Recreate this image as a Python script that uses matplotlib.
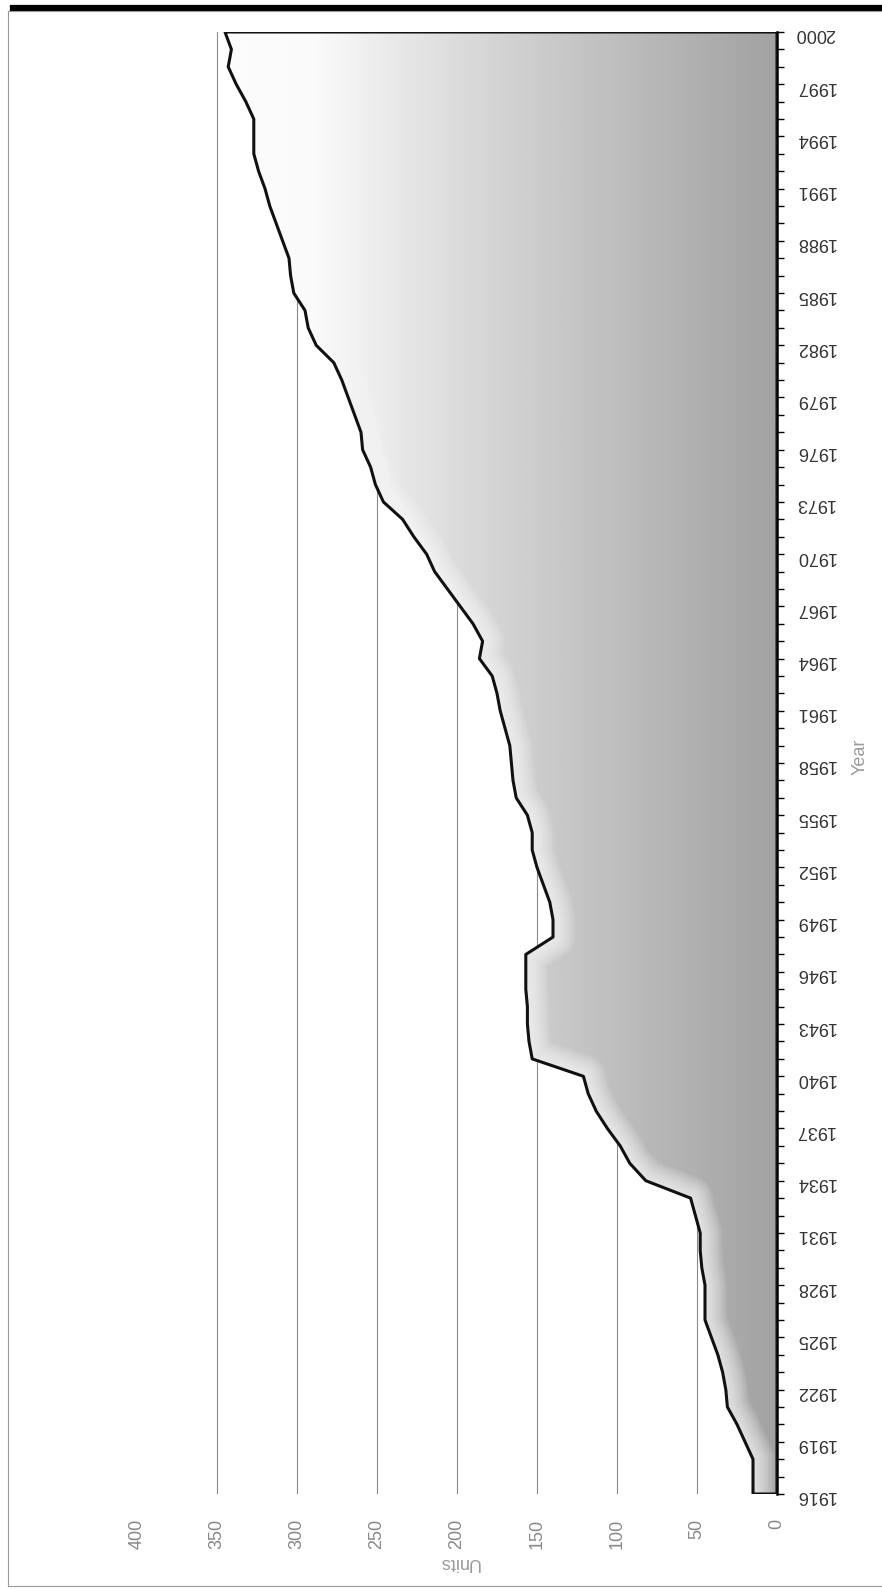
import numpy as np
import matplotlib.pyplot as plt
from matplotlib.colors import LinearSegmentedColormap
from matplotlib.lines import Line2D

plt.rcParams['font.family'] = ['Liberation Sans', 'DejaVu Sans']

years = list(range(1916, 2001))
units = [15, 15, 15, 20, 25, 31, 32, 34, 37, 41,
         45, 45, 45, 47, 48, 48, 51, 54, 82, 92,
         98, 106, 113, 118, 121, 153, 155, 156, 156, 157,
         157, 157, 140, 140, 142, 146, 150, 153, 153, 156,
         163, 165, 166, 167, 170, 173, 175, 178, 186, 184,
         190, 198, 206, 214, 219, 227, 234, 246, 251, 254,
         259, 260, 264, 268, 272, 277, 288, 293, 295, 302,
         304, 305, 309, 313, 317, 320, 324, 327, 327, 327,
         332, 338, 343, 341, 345]
unit_ticks = [0, 50, 100, 150, 200, 250, 300, 350, 400]
year_ticks = list(range(1916, 2001, 3))

fig = plt.figure(figsize=(8.82, 15.9), dpi=100)
ax = fig.add_axes([137 / 882, 1 - 1494 / 1590, 640 / 882, 1462 / 1590])

# rotated layout: years run up the right side, units grow to the left
ax.set_ylim(1916, 2000)
ax.set_xlim(400, 0)

# gradient fill clipped to the area
grad = np.linspace(0, 400, 400).reshape(1, -1)
cmap = LinearSegmentedColormap.from_list(
    'g', [(0, '#a2a2a2'), (0.25, '#bebebe'), (0.5, '#dcdcdc'), (0.72, '#fafafa'), (1, '#ffffff')])
img = ax.imshow(grad, extent=(0, 400, 1916, 2000), origin='lower', aspect='auto',
                cmap=cmap, vmin=0, vmax=400, zorder=1)
area = ax.fill_betweenx(years, 0, units, facecolor='none', edgecolor='none', zorder=1)
img.set_clip_path(area.get_paths()[0], transform=ax.transData)

# soft white edge along the curve
for lw in range(2, 34, 2):
    ax.plot(units, years, color='white', lw=lw, alpha=0.07, zorder=2,
            solid_joinstyle='round', clip_path=img.get_clip_path())

ax.fill_betweenx(years, 0, units, facecolor='none', edgecolor='#111111', lw=2.2, zorder=4)

# grid
ax.set_xticks(unit_ticks)
ax.grid(axis='x', color='#8a8a8a', lw=0.8, zorder=0)
ax.grid(axis='y', visible=False)
for gl, t in zip(ax.get_xgridlines(), unit_ticks):
    if t in (0, 400):
        gl.set_visible(False)
ax.set_axisbelow(True)

for s in ['top', 'left', 'bottom']:
    ax.spines[s].set_visible(False)
ax.spines['right'].set_color('black')
ax.spines['right'].set_linewidth(1.8)

ax.yaxis.tick_right()
ax.set_yticks(year_ticks)
ax.set_yticks(years, minor=True)
ax.tick_params(axis='y', which='both', direction='out', length=5, width=1, color='black')
ax.tick_params(axis='y', which='major', labelsize=13, labelcolor='#333333', labelrotation=180, pad=8)
ax.tick_params(axis='x', length=0, labelsize=13, labelcolor='#888888', labelrotation=90, pad=18)

fig.text(860 / 882, 1 - 757 / 1590, 'Year', rotation=90, ha='center', va='center',
         fontsize=13, color='#9a9a9a')
fig.text(459 / 882, 1 - 1562 / 1590, 'Units', rotation=180, ha='center', va='center',
         fontsize=13, color='#9a9a9a')

# page frame
fig.add_artist(Line2D([13 / 882, 1], [1 - 7.5 / 1590] * 2, color='black', lw=4.5,
                      transform=fig.transFigure))
fig.add_artist(Line2D([8 / 882, 1], [1 - 11 / 1590] * 2, color='#999999', lw=0.8,
                      transform=fig.transFigure))
fig.add_artist(Line2D([8 / 882] * 2, [1 - 11 / 1590, 1 - 1586 / 1590], color='#999999', lw=0.8,
                      transform=fig.transFigure))
fig.add_artist(Line2D([8 / 882, 1], [1 - 1586 / 1590] * 2, color='#999999', lw=0.8,
                      transform=fig.transFigure))

fig.savefig('out.png', dpi=100)
